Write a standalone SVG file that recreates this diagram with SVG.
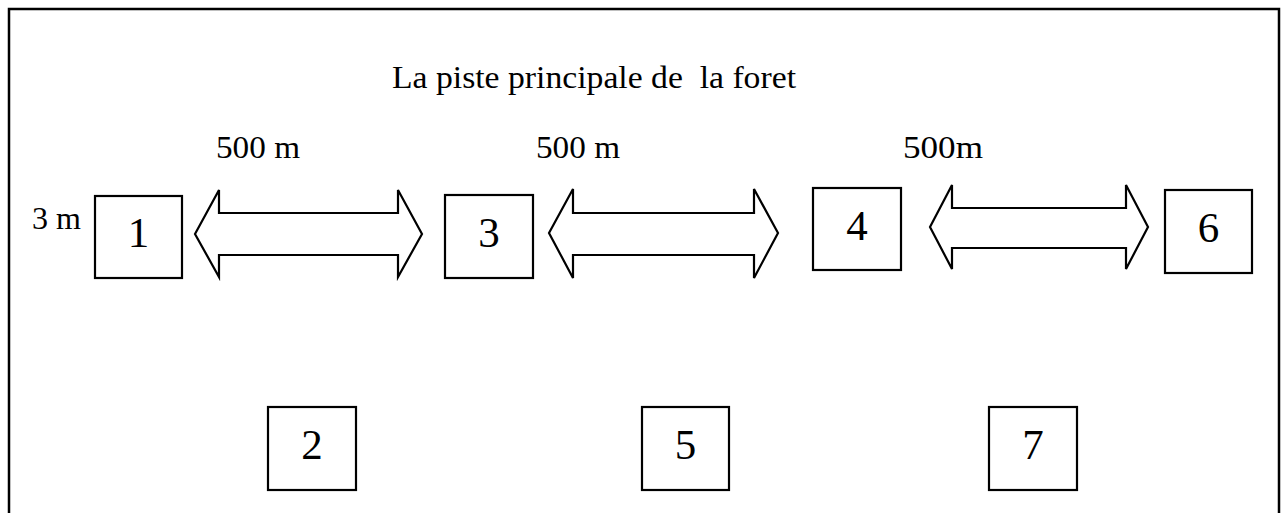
<svg xmlns="http://www.w3.org/2000/svg" width="1288" height="513" viewBox="0 0 1288 513">
  <style>
    .frame { fill: none; stroke: #000; stroke-width: 2.5; }
    .box { fill: #fff; stroke: #000; stroke-width: 2.2; }
    .arrow { fill: #fff; stroke: #000; stroke-width: 2.2; stroke-linejoin: miter; }
    .lbl { font-family: "Liberation Serif", "DejaVu Serif", serif; font-size: 31.5px; fill: #000; }
    .num { font-family: "Liberation Serif", "DejaVu Serif", serif; font-size: 43px; fill: #000; text-anchor: middle; }
  </style>
  <rect width="1288" height="513" fill="#fff"/>
  <!-- outer frame, open at the bottom edge -->
  <rect class="frame" x="9" y="9" width="1270" height="530"/>

  <text class="lbl" x="392" y="88" xml:space="preserve" style="white-space:pre" textLength="404" lengthAdjust="spacingAndGlyphs">La piste principale de  la foret</text>
  <text class="lbl" x="216" y="158" textLength="84" lengthAdjust="spacingAndGlyphs">500 m</text>
  <text class="lbl" x="536" y="158" textLength="84" lengthAdjust="spacingAndGlyphs">500 m</text>
  <text class="lbl" x="903" y="158" textLength="80" lengthAdjust="spacingAndGlyphs">500m</text>
  <text class="lbl" x="32" y="229" textLength="49" lengthAdjust="spacingAndGlyphs">3 m</text>

  <!-- double-headed arrows between the points -->
  <g id="connectors">
    <polygon class="arrow" points="195,234 219,190 219,213 398,213 398,190 422,234 398,277 398,255 219,255 219,277"/>
    <polygon class="arrow" points="549,233 573,189 573,213 754,213 754,189 778,233 754,278 754,255 573,255 573,278"/>
    <polygon class="arrow" points="930,227 952,185 952,208 1126,208 1126,185 1148,227 1126,269 1126,248 952,248 952,269"/>
  </g>

  <g id="node1"><rect class="box" x="95" y="196" width="87" height="82"/><text class="num" x="138.5" y="247">1</text></g>
  <g id="node3"><rect class="box" x="445" y="195" width="88" height="83"/><text class="num" x="489" y="247">3</text></g>
  <g id="node4"><rect class="box" x="813" y="188" width="88" height="82"/><text class="num" x="857" y="240">4</text></g>
  <g id="node6"><rect class="box" x="1165" y="190" width="87" height="83"/><text class="num" x="1208.5" y="242">6</text></g>
  <g id="node2"><rect class="box" x="268" y="407" width="88" height="83"/><text class="num" x="312" y="459">2</text></g>
  <g id="node5"><rect class="box" x="642" y="407" width="87" height="83"/><text class="num" x="685.5" y="459">5</text></g>
  <g id="node7"><rect class="box" x="989" y="407" width="88" height="83"/><text class="num" x="1033" y="459">7</text></g>
</svg>
